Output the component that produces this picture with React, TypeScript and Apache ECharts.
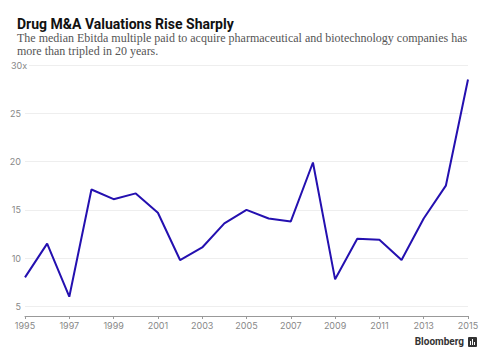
import React, { useEffect, useRef } from "react";
import * as echarts from "echarts";

const years = ["1995","1996","1997","1998","1999","2000","2001","2002","2003","2004","2005","2006","2007","2008","2009","2010","2011","2012","2013","2014","2015"];
const multiples = [8.0, 11.5, 6.0, 17.1, 16.1, 16.7, 14.7, 9.8, 11.1, 13.6, 15.0, 14.1, 13.8, 19.9, 7.8, 12.0, 11.9, 9.8, 14.1, 17.5, 28.5];
const yTicks = [5, 10, 15, 20, 25];
const topTickLabel = "30x";

export default function App() {
  const ref = useRef<HTMLDivElement>(null);
  useEffect(() => {
    if (!ref.current) return;
    const chart = echarts.init(ref.current, null, { renderer: "svg" });
    chart.setOption({
      animation: false,
      backgroundColor: "#fff",
      title: {
        text: "Drug M&A Valuations Rise Sharply",
        subtext: "The median Ebitda multiple paid to acquire pharmaceutical and biotechnology companies has\nmore than tripled in 20 years.",
        left: 12,
        top: 12,
        itemGap: 0,
        textStyle: { fontFamily: "Roboto", fontWeight: "bold", fontSize: 14, color: "#111" },
        subtextStyle: { fontFamily: "Liberation Serif", fontSize: 12, color: "#555", lineHeight: 13.5 },
      },
      grid: { left: 25, right: 20, top: 65, bottom: 41 },
      xAxis: {
        type: "category",
        data: years,
        boundaryGap: false,
        axisLine: { lineStyle: { color: "#999", width: 1 } },
        axisTick: { show: true, interval: 1, length: 3, lineStyle: { color: "#999" } },
        axisLabel: { interval: 1, color: "#888", fontSize: 9, fontFamily: "Inter", margin: 5 },
      },
      yAxis: {
        type: "value",
        min: 4,
        max: 30,
        interval: 1,
        axisLine: { show: false },
        axisTick: { show: false },
        axisLabel: {
          color: "#888",
          fontSize: 9,
          fontFamily: "Inter",
          margin: 4,
          formatter: (v: number) => (yTicks.includes(v) ? String(v) : ""),
        },
        splitLine: {
          show: true,
          lineStyle: { color: ["rgba(0,0,0,0)", "#eeeeee", "rgba(0,0,0,0)", "rgba(0,0,0,0)", "rgba(0,0,0,0)"], width: 1 },
        },
      },
      series: [
        {
          type: "line",
          data: multiples,
          symbol: "none",
          lineStyle: { color: "#2410b0", width: 2 },
        },
      ],
      graphic: [
        {
          type: "rect",
          left: 9,
          top: 61,
          shape: { width: 20, height: 9 },
          style: { fill: "#fff" },
          z: 10,
        },
        {
          type: "text",
          left: 11,
          top: 61,
          z: 11,
          style: { text: topTickLabel, font: "9px Inter", fill: "#888" },
        },
        {
          type: "text",
          right: 24,
          top: 336,
          style: { text: "Bloomberg", font: "bold 10px Roboto", fill: "#333" },
        },
        {
          type: "group",
          left: 468,
          top: 337,
          children: [
            { type: "rect", shape: { x: 0, y: 0, width: 9, height: 10, r: 1 }, style: { fill: "#333" } },
            { type: "rect", shape: { x: 2, y: 4, width: 1, height: 4 }, style: { fill: "#fff" } },
            { type: "rect", shape: { x: 4, y: 2, width: 1, height: 6 }, style: { fill: "#fff" } },
            { type: "rect", shape: { x: 6, y: 5, width: 1, height: 3 }, style: { fill: "#fff" } },
          ],
        },
      ],
    });
    return () => chart.dispose();
  }, []);
  return <div ref={ref} style={{ width: 488, height: 357, position: "absolute", left: 0, top: 0 }} />;
}
